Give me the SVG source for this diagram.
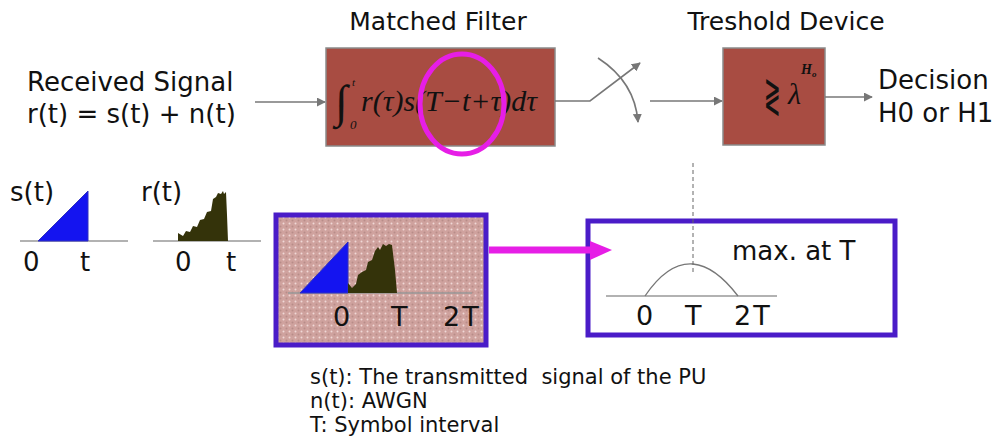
<svg xmlns="http://www.w3.org/2000/svg" width="998" height="443" viewBox="0 0 998 443">
<defs>
<style>
.t{font-family:"DejaVu Sans",sans-serif;fill:#111}
.m{font-family:"Liberation Serif","DejaVu Serif",serif;font-style:italic;fill:#111}
.blk{fill:#a84c42;stroke:#8a8a8a;stroke-width:1.5}
.c{fill:none;stroke:#777;stroke-width:1.6}
.ax{stroke:#999;stroke-width:1.6}
.pb{stroke:#4a1cc8;stroke-width:5}
</style>
<marker id="ah" viewBox="0 0 10 10" refX="9" refY="5" markerWidth="9" markerHeight="9" markerUnits="userSpaceOnUse" orient="auto"><path d="M0,0 L10,5 L0,10 z" fill="#777"/></marker>
<pattern id="dots" width="6" height="6" patternUnits="userSpaceOnUse"><rect width="6" height="6" fill="#cfa29e"/><circle cx="1.5" cy="1.5" r="1" fill="#f0d8d6"/><circle cx="4.5" cy="4.5" r="1" fill="#b88c88"/></pattern>
</defs>

<g id="input-label">
<text class="t" x="27" y="91" font-size="26">Received Signal</text>
<text class="t" x="27" y="123" font-size="26">r(t) = s(t) + n(t)</text>
</g>

<g id="matched-filter">
<text class="t" x="438" y="30" font-size="25" text-anchor="middle">Matched Filter</text>
<rect class="blk" x="326" y="48" width="229" height="98"/>
<text class="m" x="335" y="117" font-size="46" font-style="normal">∫</text>
<text class="m" x="350" y="129" font-size="13" font-style="normal">0</text>
<text class="m" x="352" y="86" font-size="11">t</text>
<text class="m" x="361" y="111" font-size="30">r(τ)s(T−t+τ)dτ</text>
<ellipse cx="462" cy="104" rx="42" ry="50" fill="none" stroke="#e61ee6" stroke-width="5"/>
</g>

<g id="threshold-device">
<text class="t" x="786" y="30" font-size="25" text-anchor="middle">Treshold Device</text>
<rect class="blk" x="723" y="48" width="102" height="97"/>
<text class="t" font-size="32" transform="translate(764,112) scale(0.62,1.5)">≷</text>
<text class="m" x="788" y="104" font-size="30">λ</text>
<text class="m" x="801" y="74" font-size="14" font-weight="bold">H<tspan font-size="9" dy="3">o</tspan></text>
</g>

<g id="decision">
<text class="t" x="878" y="89" font-size="26">Decision</text>
<text class="t" x="878" y="122" font-size="26">H0 or H1</text>
</g>

<g id="s-signal">
<text class="t" x="10" y="201" font-size="26">s(t)</text>
<line class="ax" x1="20" y1="241" x2="128" y2="241"/>
<polygon points="38,241 88,191 88,241" fill="#1414f0" stroke="#3030c0" stroke-width="1"/>
<text class="t" x="23" y="271" font-size="26">0</text>
<text class="t" x="80" y="271" font-size="26">t</text>
</g>

<g id="r-signal">
<text class="t" x="141" y="201" font-size="26">r(t)</text>
<line class="ax" x1="153" y1="241" x2="261" y2="241"/>
<polygon points="178,241 178,233 183,236 186,231 190,232 193,226 197,227 200,220 204,219 207,212 211,211 213,199 216,197 218,193 221,194 223,191 224,194 226,192 227,215 228,241" fill="#34330a"/>
<text class="t" x="175" y="271" font-size="26">0</text>
<text class="t" x="226" y="271" font-size="26">t</text>
</g>

<g id="convolution-box">
<rect class="pb" x="276" y="215" width="210" height="130" fill="url(#dots)"/>
<line class="ax" x1="288" y1="293" x2="472" y2="293"/>
<polygon points="300,293 348,242 348,293" fill="#1414f0" stroke="#3030c0" stroke-width="1"/>
<polygon points="348,293 348,283 352,288 356,284 358,275 362,272 366,270 368,262 372,260 375,251 378,247 380,250 383,244 386,246 389,244 392,245 395,270 397,293" fill="#34330a"/>
<text class="t" x="333" y="326" font-size="27">0</text>
<text class="t" x="391" y="326" font-size="27">T</text>
<text class="t" x="443" y="326" font-size="27" letter-spacing="2">2T</text>
</g>

<g id="output-box">
<rect class="pb" x="588" y="221" width="307" height="114" fill="#fff"/>
<text class="t" x="732" y="260" font-size="26">max. at T</text>
<line class="ax" x1="606" y1="296" x2="777" y2="296"/>
<path d="M645,296 Q668,262 693,264 Q715,266 738,296" fill="none" stroke="#777" stroke-width="1.3"/>
<text class="t" x="636" y="325" font-size="27">0</text>
<text class="t" x="685" y="325" font-size="27">T</text>
<text class="t" x="734" y="325" font-size="27" letter-spacing="2">2T</text>
</g>

<g id="legend">
<text class="t" x="310" y="384" font-size="21" xml:space="preserve">s(t): The transmitted  signal of the PU</text>
<text class="t" x="310" y="408" font-size="21">n(t): AWGN</text>
<text class="t" x="310" y="432" font-size="21">T: Symbol interval</text>
</g>

<g id="connectors">
<line class="c" x1="255" y1="102" x2="325" y2="102" marker-end="url(#ah)"/>
<polyline class="c" points="555,101 590,101 640,63" marker-end="url(#ah)"/>
<path class="c" d="M598,58 Q635,82 638,122" marker-end="url(#ah)"/>
<line class="c" x1="650" y1="101" x2="722" y2="101" marker-end="url(#ah)"/>
<line class="c" x1="825" y1="97" x2="872" y2="97" marker-end="url(#ah)"/>
<line x1="489" y1="250" x2="592" y2="250" stroke="#e61ee6" stroke-width="7"/>
<polygon points="590,241 612,250 590,260" fill="#e61ee6"/>
<line x1="693" y1="163" x2="693" y2="273" stroke="#666" stroke-width="1" stroke-dasharray="4,3"/>
</g>
</svg>
